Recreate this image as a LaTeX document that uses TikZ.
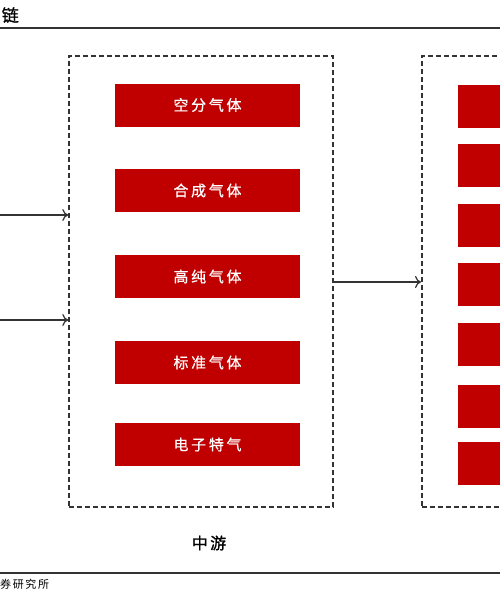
\documentclass[tikz,border=0pt]{standalone}
\usepackage{fontspec}
\newfontfamily\cjk{Noto Sans CJK SC}
\newfontfamily\cjkb[FakeBold=1.2]{Noto Sans CJK SC}
\newfontfamily\cjkm[FakeBold=0.6]{Noto Sans CJK SC}
\usetikzlibrary{arrows.meta}
\definecolor{boxred}{HTML}{C00000}
\definecolor{linegray}{HTML}{333333}
\tikzset{
  groupbox/.style={draw=linegray, line width=1.5pt, dash pattern=on 5pt off 3pt, minimum width=264pt, minimum height=451pt, inner sep=0pt},
  gasbox/.style={fill=boxred, draw=none, minimum width=185pt, minimum height=43pt, inner sep=0pt, text=white, font=\cjkm\fontsize{15}{16}\selectfont\addfontfeatures{LetterSpace=18}},
  rbox/.style={fill=boxred, draw=none, minimum width=110pt, minimum height=43pt, inner sep=0pt},
  flow/.style={draw=linegray, line width=1.2pt, -{To[length=6pt,width=12pt]}},
  rule/.style={draw=linegray},
}
\begin{document}
\begin{tikzpicture}[x=1pt,y=-1pt]
\useasboundingbox (0,0) rectangle (500,600);
\clip (0,0) rectangle (500,600);
\fill[white] (0,0) rectangle (500,600);

% title and rules
\node[anchor=east, inner sep=0pt, font=\cjkb\fontsize{17}{18}\selectfont] (title) at (19,15) {链};
\coordinate (topL) at (0,28);
\coordinate (topR) at (500,28);
\draw[rule, line width=1.5pt] (topL) -- (topR);
\coordinate (botL) at (0,573);
\coordinate (botR) at (500,573);
\draw[rule, line width=2pt] (botL) -- (botR);
\node[anchor=west, inner sep=0pt, font=\cjk\fontsize{11}{12}\selectfont\addfontfeatures{LetterSpace=15}] (src) at (0,584) {券研究所};

% middle group
\node[groupbox] (mid) at (201,281.5) {};
\node[gasbox] (g1) at (207.5,105) {空分气体};
\node[gasbox] (g2) at (207.5,190.5) {合成气体};
\node[gasbox] (g3) at (207.5,276.5) {高纯气体};
\node[gasbox] (g4) at (207.5,362.5) {标准气体};
\node[gasbox] (g5) at (207.5,444.5) {电子特气};
\node[font=\cjkb\fontsize{16}{18}\selectfont\addfontfeatures{LetterSpace=15}] (midlabel) at (209,543) {中游};

% right group
\node[groupbox, minimum width=200pt, anchor=west] (right) at (421,281.5) {};
\node[rbox, anchor=west] (r1) at (458,106.5) {};
\node[rbox, anchor=west] (r2) at (458,165.5) {};
\node[rbox, anchor=west] (r3) at (458,225) {};
\node[rbox, anchor=west] (r4) at (458,284.5) {};
\node[rbox, anchor=west] (r5) at (458,344.5) {};
\node[rbox, anchor=west] (r6) at (458,406) {};
\node[rbox, anchor=west] (r7) at (458,463) {};

% connectors
\coordinate (in1) at (-2,215);
\coordinate (in2) at (-2,320);
\draw[flow] (in1) -- (in1 -| mid.west);
\draw[flow] (in2) -- (in2 -| mid.west);
\coordinate (out) at (333,282);
\draw[flow] (out -| mid.east) -- (out -| right.west);
\end{tikzpicture}
\end{document}
